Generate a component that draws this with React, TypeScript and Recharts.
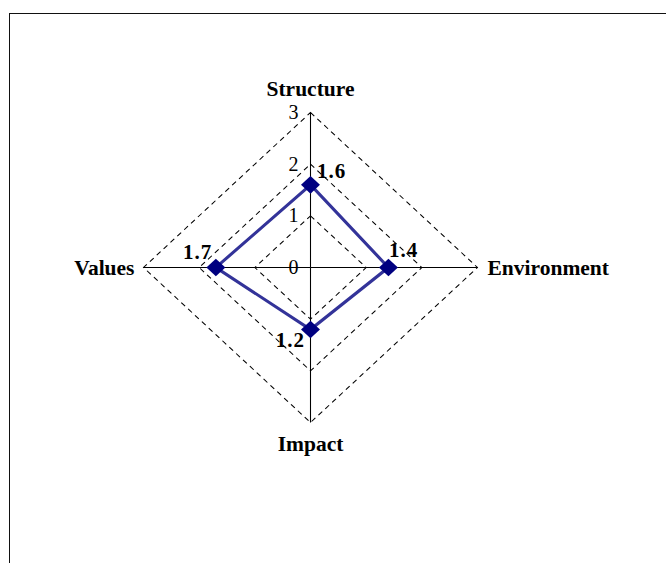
import React from "react";
import {
  RadarChart,
  Radar,
  PolarGrid,
  PolarAngleAxis,
  PolarRadiusAxis,
} from "recharts";

// chart values
const categories = ["Structure", "Environment", "Impact", "Values"];
const scores = [1.6, 1.4, 1.2, 1.7];
const radiusTickCount = 4; // 0, 1, 2, 3
const radiusMax = 3;

const data = categories.map((name, i) => ({ name, score: scores[i] }));

// geometry (the original is slightly wider than tall, so the svg is stretched on x)
const CX = 310.5;
const CY = 267.5;
const R = 155;
const RX = 167;
const K = RX / R;
const FONT = '"Liberation Serif", "Times New Roman", serif';

const toPre = (dxPost: number) => dxPost / K;
const unstretch = (x: number) =>
  `translate(${x} 0) scale(${1 / K} 1) translate(${-x} 0)`;

// where each value label sits relative to its marker
const labelOffsets = [
  { dx: 6.5, dy: -6.5, anchor: "start" },
  { dx: 0.5, dy: -10.5, anchor: "start" },
  { dx: -5.5, dy: 17.5, anchor: "end" },
  { dx: -3.5, dy: -8.5, anchor: "end" },
];

const AngleTick = (props: any) => {
  const { x, y, payload, textAnchor } = props;
  let tx = x;
  let ty = y;
  let anchor = "middle";
  if (textAnchor === "start") {
    tx = CX + toPre(RX + 10);
    ty = CY + 7;
    anchor = "start";
  } else if (textAnchor === "end") {
    tx = CX - toPre(RX + 9);
    ty = CY + 7;
    anchor = "end";
  } else if (y < CY) {
    ty = CY - R - 17;
  } else {
    ty = CY + R + 28;
  }
  return (
    <text
      x={tx}
      y={ty}
      textAnchor={anchor}
      transform={unstretch(tx)}
      fontFamily={FONT}
      fontWeight="bold"
      fontSize={21.5}
      fill="#000"
    >
      {payload.value}
    </text>
  );
};

const RadiusTick = (props: any) => {
  const { y, payload } = props;
  const tx = CX - toPre(12);
  return (
    <text
      x={tx}
      y={y + 6.5}
      textAnchor="end"
      transform={unstretch(tx)}
      fontFamily={FONT}
      fontSize={20}
      fill="#000"
    >
      {payload.value}
    </text>
  );
};

const DiamondDot = (props: any) => {
  const { cx, cy, index } = props;
  const h = 8.8;
  const off = labelOffsets[index];
  const lx = cx + toPre(off.dx);
  return (
    <g key={`dot-${index}`}>
      <polygon
        points={`${cx},${cy - h} ${cx + h},${cy} ${cx},${cy + h} ${cx - h},${cy}`}
        fill="#000080"
      />
      <text
        x={lx}
        y={cy + off.dy}
        textAnchor={off.anchor as any}
        transform={unstretch(lx)}
        fontFamily={FONT}
        fontWeight="bold"
        fontSize={21}
        letterSpacing={1}
        fill="#000"
      >
        {scores[index]}
      </text>
    </g>
  );
};

export default function App() {
  return (
    <div
      style={{
        position: "fixed",
        left: 0,
        top: 0,
        width: 666,
        height: 563,
        overflow: "hidden",
        background: "#fff",
      }}
    >
      <div
        style={{
          position: "absolute",
          left: 9,
          top: 13,
          width: 720,
          height: 620,
          border: "1px solid #111",
        }}
      />
      <div
        style={{
          position: "absolute",
          left: 0,
          top: 0,
          transform: `scaleX(${K})`,
          transformOrigin: `${CX}px 0px`,
        }}
      >
        <RadarChart
          width={666}
          height={563}
          cx={CX}
          cy={CY}
          outerRadius={R}
          data={data}
          margin={{ top: 0, right: 0, bottom: 0, left: 0 }}
        >
          <PolarGrid
            gridType="polygon"
            radialLines={false}
            stroke="#000"
            strokeDasharray="5 4"
          />
          <PolarGrid gridType="polygon" polarRadius={[]} stroke="#000" />
          <PolarAngleAxis
            dataKey="name"
            axisLine={false}
            tickLine={false}
            tick={AngleTick}
          />
          <PolarRadiusAxis
            angle={90}
            domain={[0, radiusMax]}
            tickCount={radiusTickCount}
            axisLine={false}
            tickLine={false}
            tick={RadiusTick}
          />
          <Radar
            dataKey="score"
            stroke="#333399"
            strokeWidth={3}
            fill="none"
            fillOpacity={0}
            dot={DiamondDot}
            isAnimationActive={false}
          />
        </RadarChart>
      </div>
    </div>
  );
}
